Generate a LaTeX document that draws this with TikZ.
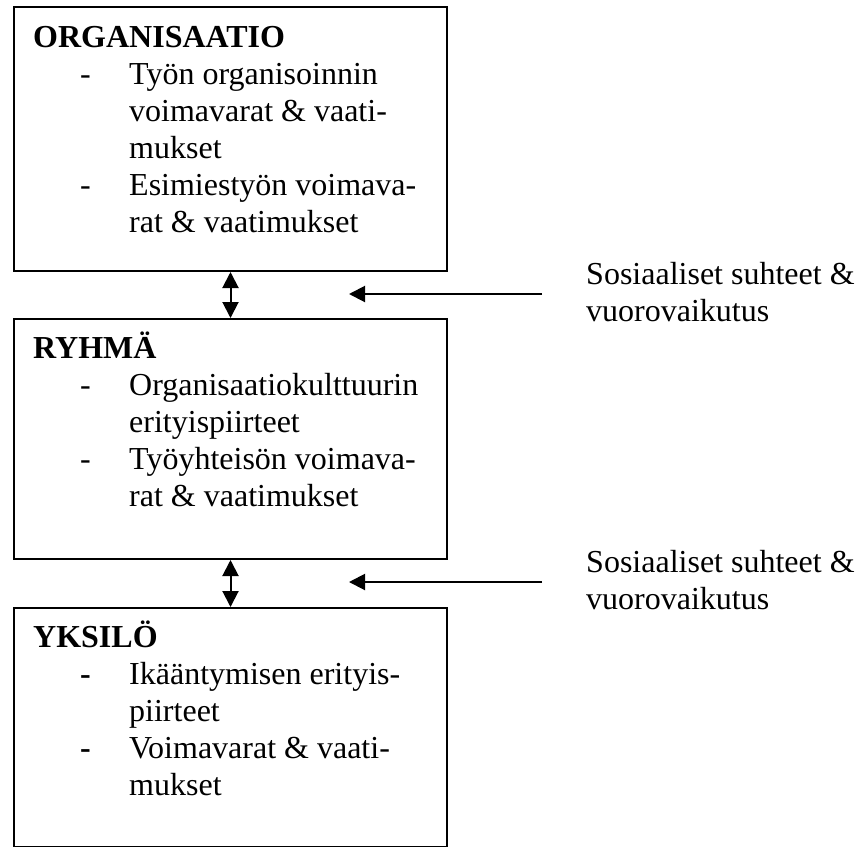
\documentclass[tikz,border=0pt]{standalone}
\usepackage{fontspec}
\setmainfont{Liberation Serif}
\usetikzlibrary{arrows.meta}
\begin{document}
\begin{tikzpicture}[x=1pt,y=-1pt,
  box/.style={draw, line width=2pt, inner sep=0pt, anchor=north west, minimum width=433pt},
  txt/.style={anchor=base west, inner sep=0pt, font=\fontsize{32}{37}\selectfont},
  ttl/.style={anchor=base west, inner sep=0pt, font=\fontsize{32}{37}\selectfont\bfseries},
  conn/.style={line width=2pt, -{Triangle[width=16pt,length=16pt]}},
  dconn/.style={line width=2pt, {Triangle[width=16pt,length=16pt]}-{Triangle[width=16pt,length=16pt]}}]
\useasboundingbox (0,0) rectangle (861,846);

% boxes
\node[box, minimum height=264pt] (org) at (13,6) {};
\node[box, minimum height=240pt] (ryh) at (13,318) {};
\node[box, minimum height=239pt] (yks) at (13,607) {};

% ORGANISAATIO
\node[ttl] (ot) at (33,47) {ORGANISAATIO};
\node[txt] (od1) at (80,84) {-};
\node[txt] (o1) at (129,84) {Työn organisoinnin};
\node[txt] (o2) at (129,121) {voimavarat \& vaati-};
\node[txt] (o3) at (129,158) {mukset};
\node[txt] (od2) at (80,195) {-};
\node[txt] (o4) at (129,195) {Esimiestyön voimava-};
\node[txt] (o5) at (129,232) {rat \& vaatimukset};

% RYHMÄ
\node[ttl] (rt) at (33,358) {RYHMÄ};
\node[txt] (rd1) at (80,395) {-};
\node[txt] (r1) at (129,395) {Organisaatiokulttuurin};
\node[txt] (r2) at (129,432) {erityispiirteet};
\node[txt] (rd2) at (80,469) {-};
\node[txt] (r3) at (129,469) {Työyhteisön voimava-};
\node[txt] (r4) at (129,506) {rat \& vaatimukset};

% YKSILÖ
\node[ttl] (yt) at (33,647) {YKSILÖ};
\node[txt] (yd1) at (80,684) {\textbf{-}};
\node[txt] (y1) at (129,684) {Ikääntymisen erityis-};
\node[txt] (y2) at (129,721) {piirteet};
\node[txt] (yd2) at (80,758) {\textbf{-}};
\node[txt] (y3) at (129,758) {Voimavarat \& vaati-};
\node[txt] (y4) at (129,795) {mukset};

% side labels
\node[txt] (s1a) at (586,284) {Sosiaaliset suhteet \&};
\node[txt] (s1b) at (586,321) {vuorovaikutus};
\node[txt] (s2a) at (586,572) {Sosiaaliset suhteet \&};
\node[txt] (s2b) at (586,609) {vuorovaikutus};

% connectors
\draw[dconn] (org.south) -- (ryh.north);
\draw[dconn] (ryh.south) -- (yks.north);
\coordinate (a1s) at (542,294);
\coordinate (a1e) at (349,294);
\coordinate (a2s) at (542,582);
\coordinate (a2e) at (349,582);
\draw[conn] (a1s) -- (a1e);
\draw[conn] (a2s) -- (a2e);
\end{tikzpicture}
\end{document}
